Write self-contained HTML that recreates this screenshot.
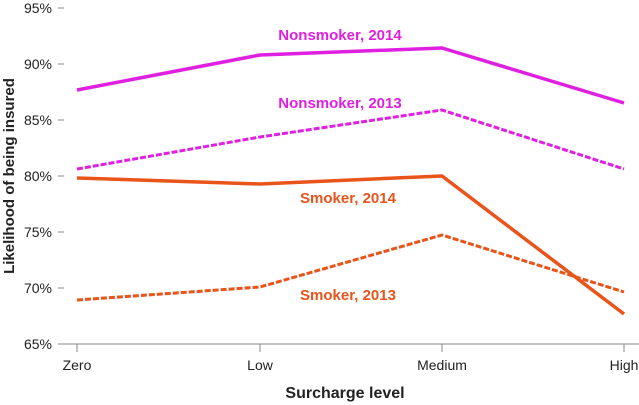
<!DOCTYPE html><html><head><style>body{margin:0;background:#fff}svg{display:block;font-family:"Liberation Sans",sans-serif}</style></head><body>
<svg width="639" height="405" viewBox="0 0 639 405">
<g font-size="14" fill="#222" text-anchor="end">
<text x="52" y="13">95%</text><text x="52" y="69">90%</text><text x="52" y="125">85%</text><text x="52" y="181">80%</text><text x="52" y="237">75%</text><text x="52" y="293">70%</text><text x="52" y="349">65%</text>
</g>
<g stroke="#888" stroke-width="1">
<line x1="58" x2="64" y1="8" y2="8"/><line x1="58" x2="64" y1="64" y2="64"/><line x1="58" x2="64" y1="120" y2="120"/><line x1="58" x2="64" y1="176" y2="176"/><line x1="58" x2="64" y1="232" y2="232"/><line x1="58" x2="64" y1="288" y2="288"/>
<line x1="58" x2="639" y1="344" y2="344"/>
<line x1="77" x2="77" y1="344" y2="352"/><line x1="260" x2="260" y1="344" y2="352"/><line x1="442" x2="442" y1="344" y2="352"/><line x1="624" x2="624" y1="344" y2="352"/>
</g>
<g font-size="14" fill="#222" text-anchor="middle">
<text x="77" y="370">Zero</text><text x="260" y="370">Low</text><text x="442" y="370">Medium</text><text x="624" y="370">High</text>
</g>
<text x="345" y="398" font-size="16" font-weight="bold" text-anchor="middle" fill="#222">Surcharge level</text>
<text transform="translate(14,176) rotate(-90)" font-size="15" font-weight="bold" text-anchor="middle" fill="#222">Likelihood of being insured</text>
<g fill="none" stroke-width="3.5" stroke-linejoin="round">
<polyline stroke="#e020e0" points="77,90 260,55 442,48 624,103"/>
<polyline stroke="#e020e0" stroke-dasharray="6,2" stroke-width="3" points="77,169 260,137 442,110 624,169"/>
<polyline stroke="#e8541a" points="77,178 260,184 442,176 624,314"/>
<polyline stroke="#e8541a" stroke-dasharray="6,2" stroke-width="3" points="77,300 260,287 442,235 624,292"/>
</g>
<g font-size="15" font-weight="bold" text-anchor="middle">
<text x="340" y="40" fill="#e020e0">Nonsmoker, 2014</text>
<text x="340" y="108" fill="#e020e0">Nonsmoker, 2013</text>
<text x="348" y="203" fill="#e8541a">Smoker, 2014</text>
<text x="348" y="300" fill="#e8541a">Smoker, 2013</text>
</g>
</svg></body></html>
